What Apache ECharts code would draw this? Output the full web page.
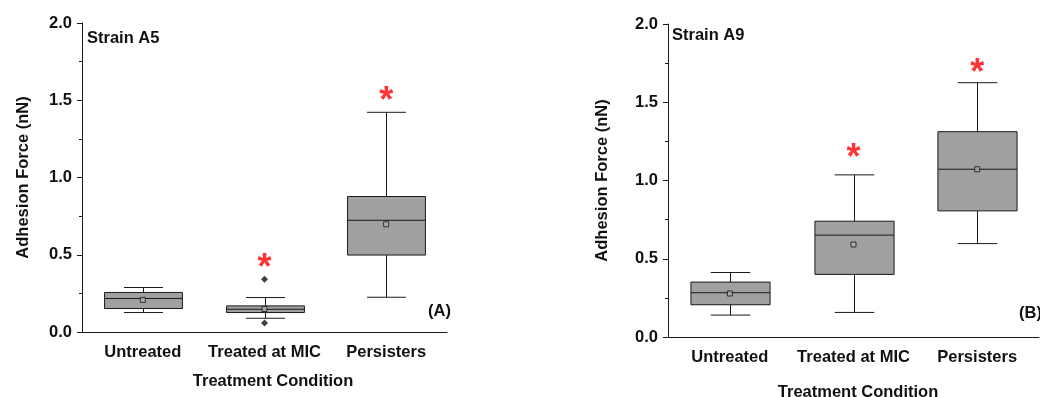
<!DOCTYPE html>
<html>
<head>
<meta charset="utf-8">
<script src="https://cdn.jsdelivr.net/npm/echarts@6/dist/echarts.min.js"></script>
<style>
  html, body { margin: 0; padding: 0; background: #fff; }
  #chart { width: 1040px; height: 397px; }
</style>
</head>
<body>
<div id="chart"></div>
<script>
// categories on the x axis
const categories = ['Untreated', 'Treated at MIC', 'Persisters']
const yTicks = [0, 0.5, 1.0, 1.5, 2.0]

// box data: [min, Q1, median, Q3, max]
const boxA5 = [
  [0.126, 0.152, 0.217, 0.256, 0.288],
  [0.089, 0.126, 0.147, 0.169, 0.223],
  [0.225, 0.498, 0.723, 0.877, 1.422]
]
const meanA5 = [0.208, 0.149, 0.697]
const outlierA5 = [[1, 0.342], [1, 0.058]]
const starA5 = [[1, 0.461], [2, 1.54]]

const boxA9 = [
  [0.140, 0.206, 0.283, 0.351, 0.412],
  [0.157, 0.400, 0.651, 0.740, 1.036],
  [0.597, 0.806, 1.072, 1.312, 1.625]
]
const meanA9 = [0.278, 0.591, 1.072]
const outlierA9 = []
const starA9 = [[1, 1.185], [2, 1.73]]

const font = '"Liberation Sans", Arial, sans-serif'
const lineColor = '#1a1a1a'

// 箱体 + 半宽须线端
const renderBox = (params, api) => {
  const idx = api.value(0)
  const band = api.size([1, 0])[0]
  const half = band * 0.32
  const cap = band * 0.16
  const pMin = api.coord([idx, api.value(1)])
  const pQ1 = api.coord([idx, api.value(2)])
  const pMed = api.coord([idx, api.value(3)])
  const pQ3 = api.coord([idx, api.value(4)])
  const pMax = api.coord([idx, api.value(5)])
  const x = Math.round(pMed[0]) + 0.5
  const st = { stroke: lineColor, lineWidth: 1 }
  return {
    type: 'group',
    children: [
      { type: 'line', shape: { x1: x, y1: pMax[1], x2: x, y2: pQ3[1] }, style: st },
      { type: 'line', shape: { x1: x, y1: pQ1[1], x2: x, y2: pMin[1] }, style: st },
      { type: 'line', shape: { x1: x - cap, y1: pMax[1], x2: x + cap, y2: pMax[1] }, style: st },
      { type: 'line', shape: { x1: x - cap, y1: pMin[1], x2: x + cap, y2: pMin[1] }, style: st },
      {
        type: 'rect',
        shape: { x: x - half, y: pQ3[1], width: half * 2, height: pQ1[1] - pQ3[1] },
        style: { fill: '#a0a0a0', stroke: lineColor, lineWidth: 1 }
      },
      { type: 'line', shape: { x1: x - half, y1: pMed[1], x2: x + half, y2: pMed[1] }, style: st }
    ]
  }
}

const xAxisOf = (gridIndex, nameGap, shift) => ({
  type: 'category',
  gridIndex: gridIndex,
  data: categories,
  boundaryGap: true,
  name: 'Treatment Condition',
  nameLocation: 'middle',
  nameGap: nameGap,
  nameTextStyle: { fontFamily: font, fontWeight: 'bold', fontSize: 16.5, color: '#111', padding: [0, 0, 0, shift] },
  axisLine: { lineStyle: { color: lineColor, width: 1 } },
  axisTick: { alignWithLabel: true, length: 5, lineStyle: { color: lineColor } },
  axisLabel: { interval: 0, fontFamily: font, fontWeight: 'bold', fontSize: 16.5, color: '#111', margin: 12 },
  splitLine: { show: false }
})

const yAxisOf = (gridIndex, nameGap) => ({
  type: 'value',
  gridIndex: gridIndex,
  min: yTicks[0],
  max: yTicks[yTicks.length - 1],
  interval: 0.5,
  name: 'Adhesion Force (nN)',
  nameLocation: 'middle',
  nameGap: nameGap,
  nameTextStyle: { fontFamily: font, fontWeight: 'bold', fontSize: 16.5, color: '#111' },
  axisLine: { show: true, lineStyle: { color: lineColor, width: 1 } },
  axisTick: { show: true, length: 5, lineStyle: { color: lineColor } },
  minorTick: { show: true, splitNumber: 2, length: 3, lineStyle: { color: lineColor } },
  axisLabel: {
    fontFamily: font, fontWeight: 'bold', fontSize: 16.5, color: '#111', margin: 10,
    formatter: v => v.toFixed(1)
  },
  splitLine: { show: false }
})

const seriesOf = (idx, box, mean, outliers, stars) => [
  {
    type: 'custom',
    xAxisIndex: idx,
    yAxisIndex: idx,
    renderItem: renderBox,
    encode: { x: 0, y: [1, 2, 3, 4, 5] },
    data: box.map((b, i) => [i].concat(b)),
    z: 2
  },
  {
    type: 'scatter',
    xAxisIndex: idx,
    yAxisIndex: idx,
    symbol: 'rect',
    symbolSize: 5,
    itemStyle: { color: '#b0b0b0', borderColor: '#111', borderWidth: 1 },
    data: mean.map((m, i) => [i, m]),
    z: 3
  },
  {
    type: 'scatter',
    xAxisIndex: idx,
    yAxisIndex: idx,
    symbol: 'diamond',
    symbolSize: 7,
    itemStyle: { color: '#111' },
    data: outliers,
    z: 3
  },
  {
    type: 'scatter',
    xAxisIndex: idx,
    yAxisIndex: idx,
    symbolSize: 1,
    itemStyle: { color: 'rgba(0,0,0,0)' },
    label: {
      show: true,
      position: 'inside',
      formatter: '*',
      color: '#ff0000',
      fontFamily: font,
      fontWeight: 'bold',
      fontSize: 36,
      offset: [0, 8]
    },
    data: stars,
    z: 4
  }
]

const myChart = echarts.init(document.getElementById('chart'))

const options = {
  animation: false,
  backgroundColor: '#fff',
  grid: [
    { left: 82, right: 593, top: 23, bottom: 65, outerBoundsMode: 'none' },
    { left: 668, right: 1, top: 24, bottom: 60, outerBoundsMode: 'none' }
  ],
  xAxis: [xAxisOf(0, 41, 17), xAxisOf(1, 47, 9)],
  yAxis: [yAxisOf(0, 50), yAxisOf(1, 57)],
  graphic: [
    { type: 'text', left: 87, top: 30, style: { text: 'Strain A5', font: 'bold 16.5px ' + font, fill: '#111' } },
    { type: 'text', left: 672, top: 27, style: { text: 'Strain A9', font: 'bold 16.5px ' + font, fill: '#111' } },
    { type: 'text', left: 428, top: 303, style: { text: '(A)', font: 'bold 16.5px ' + font, fill: '#111' } },
    { type: 'text', left: 1019, top: 305, style: { text: '(B)', font: 'bold 16.5px ' + font, fill: '#111' } }
  ],
  series: [].concat(
    seriesOf(0, boxA5, meanA5, outlierA5, starA5),
    seriesOf(1, boxA9, meanA9, outlierA9, starA9)
  )
}
myChart.setOption(options)
</script>
</body>
</html>
